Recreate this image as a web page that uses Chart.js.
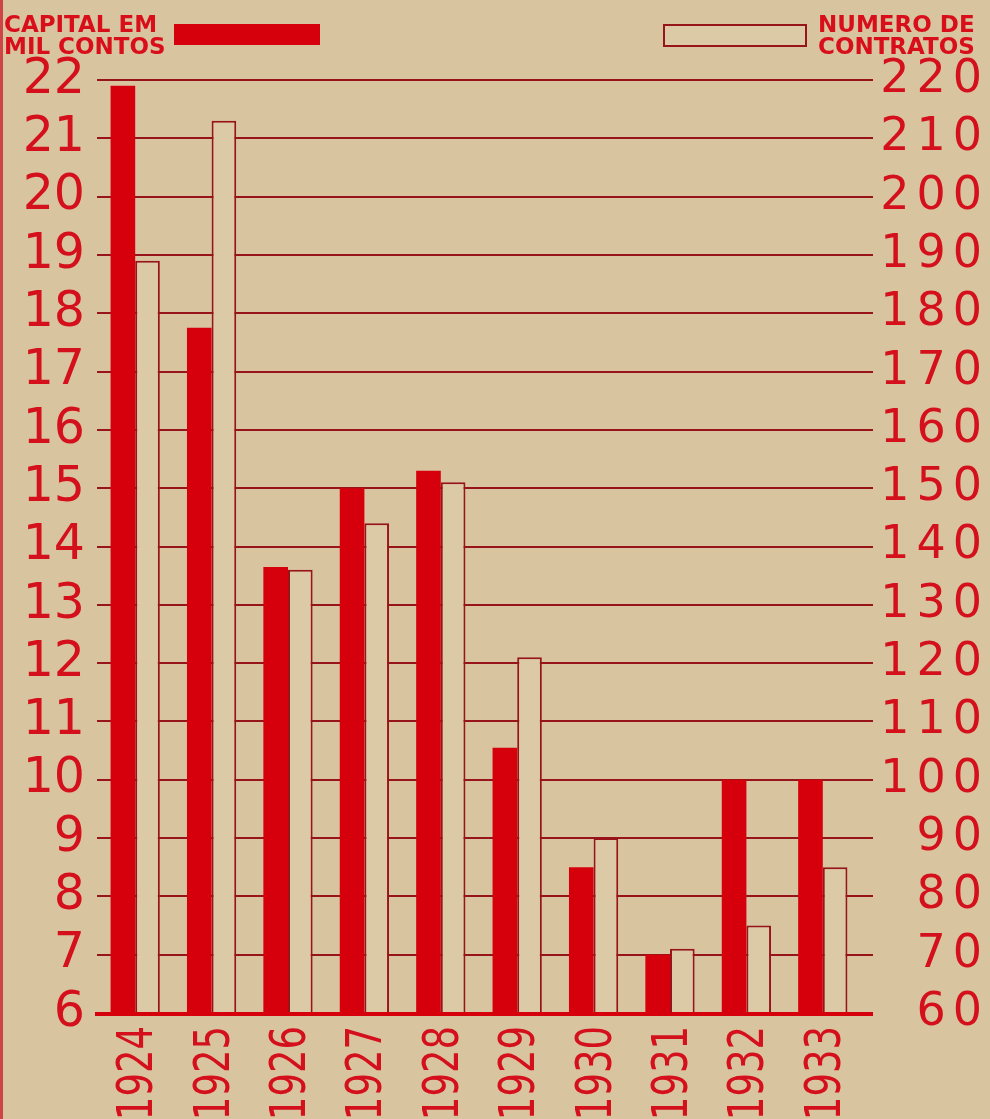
<!DOCTYPE html>
<html>
<head>
<meta charset="utf-8">
<script src="https://cdn.jsdelivr.net/npm/chart.js@4.4.0/dist/chart.umd.min.js"></script>
<style>
html,body{margin:0;padding:0;background:#d9c4a0;}
#wrap{position:relative;width:990px;height:1119px;overflow:hidden;background:#d9c4a0;}
#c{position:absolute;left:0;top:0;}
.edge{position:absolute;left:0;top:0;width:3px;height:1119px;background:#c8101c;opacity:0.7;}
.lg{position:absolute;color:#d80e1a;font-family:'DejaVu Sans',sans-serif;font-weight:bold;font-size:23px;line-height:22px;white-space:nowrap;}
.box{position:absolute;}
</style>
</head>
<body>
<div id="wrap">
  <canvas id="c" width="990" height="1119"></canvas>
  <div class="edge"></div>
  <div class="lg" style="left:4px;top:13px;">CAPITAL EM<br>MIL CONTOS</div>
  <div class="box" style="left:174px;top:24px;width:146px;height:21px;background:#d6000c;"></div>
  <div class="box" style="left:663px;top:24px;width:140px;height:19px;border:2px solid #96141a;background:#dcc9a6;"></div>
  <div class="lg" style="left:818px;top:13px;">NUMERO DE<br>CONTRATOS</div>
</div>
<script>
const years = ['1924','1925','1926','1927','1928','1929','1930','1931','1932','1933'];
const capitalMilContos = [21.9, 17.75, 13.65, 15.0, 15.3, 10.55, 8.5, 7.0, 10.0, 10.0];
const numeroContratos = [189, 213, 136, 144, 151, 121, 90, 71, 75, 85];
const capitalTicks = [6,7,8,9,10,11,12,13,14,15,16,17,18,19,20,21,22];
const contratosTicks = [60,70,80,90,100,110,120,130,140,150,160,170,180,190,200,210,220];

const RED = '#d6000c';
const TEXT_RED = '#d4101c';
const DARK = '#96141a';
const NUM_FONT = "'DejaVu Sans', sans-serif";

// draws the thick red base line, extended under the right-axis tick marks
const baseLine = {
  id: 'baseLine',
  afterDatasetsDraw(chart) {
    const {ctx, chartArea, scales} = chart;
    const yp = scales.y.getPixelForValue(scales.y.min);
    const right = scales.y1.left + scales.y1.options.grid.tickLength;
    ctx.save();
    ctx.strokeStyle = RED;
    ctx.lineWidth = 4;
    ctx.beginPath();
    ctx.moveTo(chartArea.left - 2, yp + 1);
    ctx.lineTo(right, yp + 1);
    ctx.stroke();
    ctx.restore();
  }
};

// label styling: wide spacing on the right axis, narrow year labels
const labelStyle = {
  id: 'labelStyle',
  afterLayout(chart) {
    const y1 = chart.scales.y1;
    if (y1 && !y1._styled) {
      const orig = y1.drawLabels.bind(y1);
      y1.drawLabels = function(area) {
        const ctx = this.ctx;
        ctx.save();
        ctx.letterSpacing = '7px';
        ctx.translate(5, 0);
        orig(area);
        ctx.restore();
      };
      y1._styled = true;
    }
    const x = chart.scales.x;
    if (x && !x._styled) {
      const origX = x.drawLabels.bind(x);
      x.drawLabels = function(area) {
        const ctx = this.ctx;
        const fill = ctx.fillText;
        ctx.fillText = function(t, px, py) {
          this.save();
          this.scale(0.74, 1);
          fill.call(this, t, px / 0.74, py);
          this.restore();
        };
        ctx.save();
        ctx.translate(4, 0);
        origX(area);
        ctx.restore();
        ctx.fillText = fill;
      };
      x._styled = true;
    }
  }
};

new Chart(document.getElementById('c'), {
  type: 'bar',
  data: {
    labels: years,
    datasets: [
      {
        label: 'Capital em mil contos',
        data: capitalMilContos,
        yAxisID: 'y',
        backgroundColor: RED,
        borderWidth: 0,
        categoryPercentage: 0.645,
        barPercentage: 1.0
      },
      {
        label: 'Numero de contratos',
        data: numeroContratos,
        yAxisID: 'y1',
        backgroundColor: '#dcc9a6',
        borderColor: DARK,
        borderWidth: 2,
        categoryPercentage: 0.645,
        barPercentage: 1.0
      }
    ]
  },
  options: {
    responsive: false,
    animation: false,
    devicePixelRatio: 1,
    layout: { padding: { top: 80, right: 6, left: 0, bottom: 0 } },
    plugins: { legend: { display: false }, tooltip: { enabled: false }, title: { display: false } },
    scales: {
      x: {
        grid: { display: false },
        border: { display: false },
        ticks: {
          color: TEXT_RED,
          font: { family: NUM_FONT, size: 50 },
          minRotation: 90,
          maxRotation: 90,
          padding: 5,
          autoSkip: false
        },
        afterFit(scale) { scale.height = 106; }
      },
      y: {
        position: 'left',
        min: capitalTicks[0],
        max: capitalTicks[capitalTicks.length - 1],
        afterBuildTicks(scale) { scale.ticks = capitalTicks.map(v => ({ value: v })); },
        grid: { color: DARK, lineWidth: 2, drawTicks: false },
        border: { display: false },
        ticks: {
          color: TEXT_RED,
          font: { family: NUM_FONT, size: 49 },
          padding: 12,
          crossAlign: 'near',
          autoSkip: false
        },
        afterFit(scale) { scale.width = 97; }
      },
      y1: {
        position: 'right',
        min: contratosTicks[0],
        max: contratosTicks[contratosTicks.length - 1],
        afterBuildTicks(scale) { scale.ticks = contratosTicks.map(v => ({ value: v })); },
        grid: { color: DARK, lineWidth: 2, drawOnChartArea: false, drawTicks: true, tickLength: 12 },
        border: { display: false },
        ticks: {
          color: TEXT_RED,
          font: { family: NUM_FONT, size: 46 },
          padding: 4,
          crossAlign: 'far',
          autoSkip: false
        },
        afterFit(scale) { scale.width = 123; }
      }
    }
  },
  plugins: [baseLine, labelStyle]
});
</script>
</body>
</html>
